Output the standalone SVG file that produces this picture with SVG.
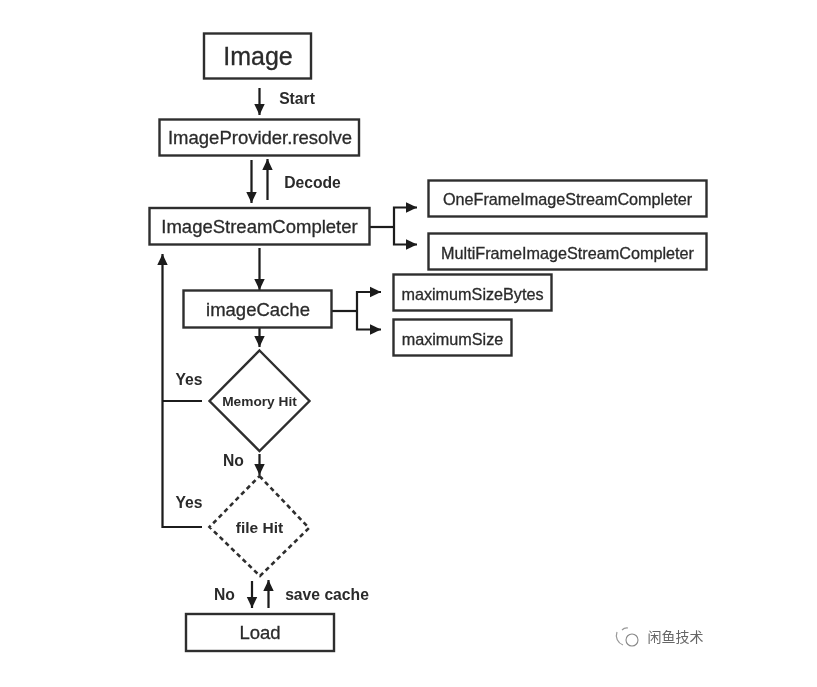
<svg xmlns="http://www.w3.org/2000/svg" width="817" height="687" viewBox="0 0 817 687">
<style>
text{font-family:"Liberation Sans",Arial,sans-serif;fill:#2b2b2b;text-anchor:middle}
.box{fill:#fff;stroke:#2e2e2e;stroke-width:2.4}
.n{font-size:18.5px;stroke:#2b2b2b;stroke-width:.3}
.s{font-size:16.2px;stroke:#2b2b2b;stroke-width:.3}
.l{font-size:15.7px;font-weight:bold}
.c{fill:none;stroke:#1a1a1a;stroke-width:2.2}
.a{marker-end:url(#ah)}
</style>
<defs>
<marker id="ah" markerUnits="userSpaceOnUse" markerWidth="13" markerHeight="12" refX="11" refY="6" orient="auto"><path d="M0 .8L11 6L0 11.200Z" fill="#1a1a1a"/></marker>
<filter id="soft" filterUnits="userSpaceOnUse" x="0" y="0" width="817" height="687"><feGaussianBlur stdDeviation="0.55"/></filter>
</defs>
<rect width="817" height="687" fill="#fff"/>
<g filter="url(#soft)">
<g id="connectors">
<path class="c a" d="M259.500 88V115"/>
<path class="c a" d="M251.500 160V203"/>
<path class="c a" d="M267.500 200V159"/>
<path class="c" d="M370 227H394"/>
<path class="c a" d="M394 227V207.500H417"/>
<path class="c a" d="M394 227V244.500H417"/>
<path class="c a" d="M259.500 248V290"/>
<path class="c" d="M332 311H357"/>
<path class="c a" d="M357 311V292H381"/>
<path class="c a" d="M357 311V329.500H381"/>
<path class="c a" d="M259.500 328V347"/>
<path class="c" d="M202 401H162.500"/>
<path class="c a" d="M202 527H162.500V254"/>
<path class="c a" d="M259.500 454V475"/>
<path class="c a" d="M252 581V608"/>
<path class="c a" d="M268.500 608V580"/>
</g>
<g id="image"><rect class="box" x="204" y="33.500" width="107" height="45"/><text x="258" y="65" font-size="25" style="stroke:#2b2b2b;stroke-width:.3">Image</text></g>
<g id="image-provider"><rect class="box" x="159.500" y="119.500" width="199.500" height="36"/><text class="n" x="260" y="144">ImageProvider.resolve</text></g>
<g id="image-stream-completer"><rect class="box" x="149.500" y="208" width="220" height="36.500"/><text class="n" x="259.500" y="233">ImageStreamCompleter</text></g>
<g id="one-frame"><rect class="box" x="428.500" y="180.500" width="278" height="36"/><text class="s" x="567.500" y="205">OneFrameImageStreamCompleter</text></g>
<g id="multi-frame"><rect class="box" x="428.500" y="233.500" width="278" height="36"/><text class="s" x="567.500" y="259">MultiFrameImageStreamCompleter</text></g>
<g id="maximum-size-bytes"><rect class="box" x="393.500" y="274.500" width="158" height="36"/><text class="s" x="472.500" y="300">maximumSizeBytes</text></g>
<g id="maximum-size"><rect class="box" x="393.500" y="319.500" width="118" height="36"/><text class="s" x="452.500" y="345">maximumSize</text></g>
<g id="image-cache"><rect class="box" x="183.500" y="290.500" width="148" height="37"/><text class="n" x="258" y="316">imageCache</text></g>
<g id="memory-hit"><path class="box" d="M259.500 350.500L309.500 401L259.500 451L209.500 401Z"/><text x="259.500" y="406" font-size="13.700" font-weight="bold">Memory Hit</text></g>
<g id="file-hit"><path class="box" stroke-dasharray="4.500 3.500" style="stroke-width:2.600" d="M259.500 476L309 528L260 576L209.500 527Z"/><text x="259.500" y="533" font-size="15.500" font-weight="bold">file Hit</text></g>
<g id="load"><rect class="box" x="186" y="614" width="148" height="37"/><text class="n" x="260" y="639">Load</text></g>
<g id="labels">
<text class="l" x="297" y="104">Start</text>
<text class="l" x="312.500" y="188">Decode</text>
<text class="l" x="189" y="385">Yes</text>
<text class="l" x="233.500" y="466">No</text>
<text class="l" x="189" y="508">Yes</text>
<text class="l" x="224.500" y="600">No</text>
<text class="l" x="327" y="600">save cache</text>
</g>
<g id="watermark">
<circle cx="632" cy="640" r="6" fill="none" stroke="#888" stroke-width="1.100"/>
<path d="M617 632A10 10 0 0 0 623 645M622 630A7 7 0 0 1 628 628" fill="none" stroke="#999" stroke-width="1.200"/>
<text x="675.500" y="642" font-size="14" style="font-family:'Noto Sans CJK SC',sans-serif;fill:#666">闲鱼技术</text>
</g>
</g>
</svg>
